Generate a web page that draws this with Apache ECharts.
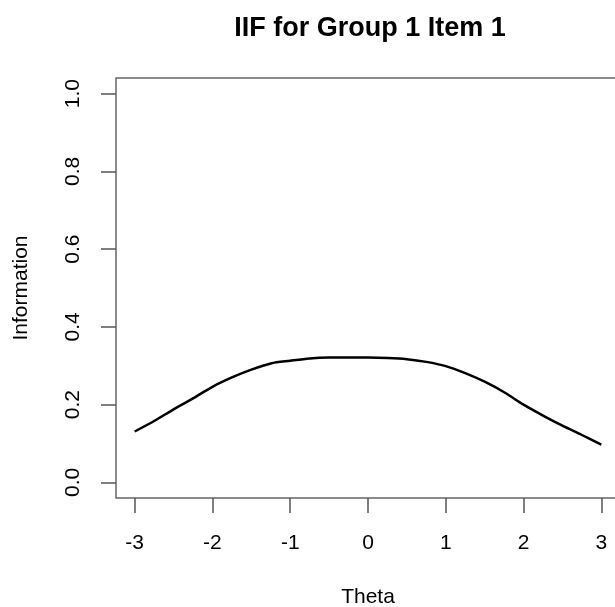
<!DOCTYPE html>
<html>
<head>
<meta charset="utf-8">
<script src="https://cdn.jsdelivr.net/npm/echarts@6/dist/echarts.min.js"></script>
<style>html,body{margin:0;padding:0;background:#fff}#c{width:615px;height:607px}</style>
</head>
<body>
<div id="c"></div>
<script>
const titleText = "IIF for Group 1 Item 1";
const xName = "Theta";
const yName = "Information";
const theta = [-3, -2.75, -2.5, -2.25, -2, -1.75, -1.5, -1.25, -1, -0.75, -0.5, -0.25, 0, 0.25, 0.5, 0.75, 1, 1.25, 1.5, 1.75, 2, 2.25, 2.5, 2.75, 3];
const info  = [0.131, 0.158, 0.188, 0.216, 0.246, 0.270, 0.290, 0.306, 0.313, 0.319, 0.321, 0.321, 0.321, 0.320, 0.317, 0.310, 0.299, 0.281, 0.259, 0.232, 0.200, 0.172, 0.146, 0.122, 0.097];
const xTicks = [-3, -2, -1, 0, 1, 2, 3];
const yTicks = [0, 0.2, 0.4, 0.6, 0.8, 1.0];

const font = "'Liberation Sans', Arial, sans-serif";
const chart = echarts.init(document.getElementById('c'), null, {renderer: 'canvas'});
chart.setOption({
  animation: false,
  backgroundColor: '#fff',
  title: {
    text: titleText, left: 365, top: 10, textAlign: 'center',
    textStyle: {fontFamily: font, fontSize: 27, fontWeight: 'bold', color: '#000'}
  },
  grid: {
    left: 116, top: 78, width: 504, height: 420,
    outerBoundsMode: 'none', containLabel: false,
    show: true, borderColor: '#666', borderWidth: 1.5, backgroundColor: 'transparent'
  },
  xAxis: {
    type: 'value', min: -3.24, max: 3.24,
    name: xName, nameLocation: 'middle', nameGap: 89,
    nameTextStyle: {fontFamily: font, fontSize: 21, color: '#000'},
    axisLine: {show: false, onZero: false},
    axisTick: {show: true, length: 15, customValues: xTicks, lineStyle: {color: '#555', width: 1.5}},
    axisLabel: {customValues: xTicks, fontFamily: font, fontSize: 21, color: '#000', margin: 35,
      formatter: v => String(v)},
    splitLine: {show: false}
  },
  yAxis: {
    type: 'value', min: -0.04, max: 1.04,
    name: yName, nameLocation: 'middle', nameRotate: 90, nameGap: 84,
    nameTextStyle: {fontFamily: font, fontSize: 21, color: '#000'},
    axisLine: {show: false, onZero: false},
    axisTick: {show: true, length: 15, customValues: yTicks, lineStyle: {color: '#555', width: 1.5}},
    axisLabel: {customValues: yTicks, rotate: 90, fontFamily: font, fontSize: 21, color: '#000', margin: 32,
      formatter: v => v.toFixed(1)},
    splitLine: {show: false}
  },
  series: [{
    type: 'line',
    data: theta.map((t, i) => [t, info[i]]),
    smooth: 0.3,
    showSymbol: false,
    lineStyle: {color: '#000', width: 2.5}
  }]
});
</script>
</body>
</html>
